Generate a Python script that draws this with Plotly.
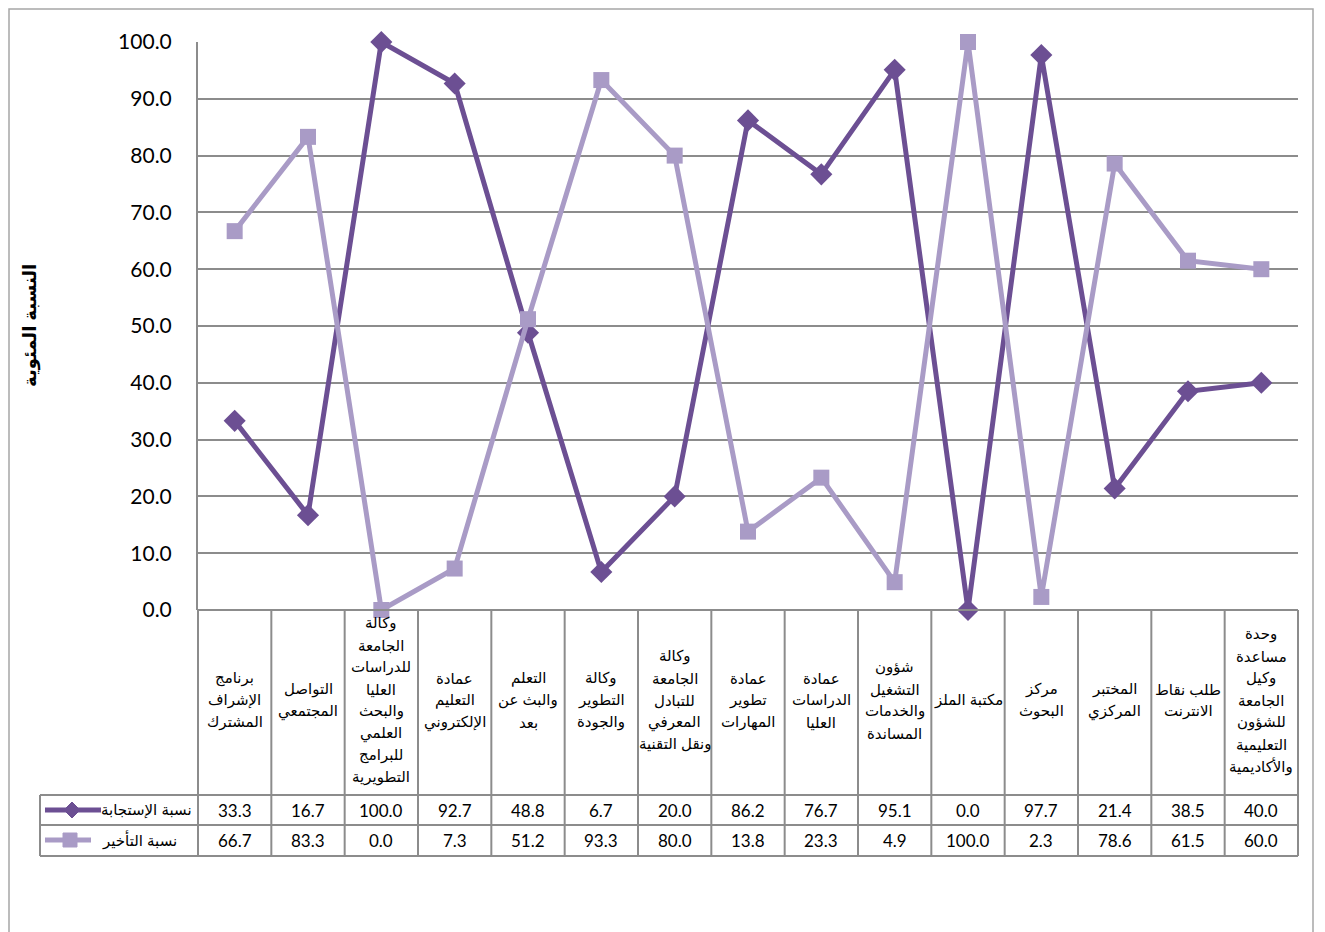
import plotly.graph_objects as go

categories = [
    "برنامج<br>الإشراف<br>المشترك",
    "التواصل<br>المجتمعي",
    "وكالة<br>الجامعة<br>للدراسات<br>العليا<br>والبحث<br>العلمي<br>للبرامج<br>التطويرية",
    "عمادة<br>التعليم<br>الإلكتروني",
    "التعلم<br>والبث عن<br>بعد",
    "وكالة<br>التطوير<br>والجودة",
    "وكالة<br>الجامعة<br>للتبادل<br>المعرفي<br>ونقل التقنية",
    "عمادة<br>تطوير<br>المهارات",
    "عمادة<br>الدراسات<br>العليا",
    "شؤون<br>التشغيل<br>والخدمات<br>المساندة",
    "مكتبة الملز",
    "مركز<br>البحوث",
    "المختبر<br>المركزي",
    "طلب نقاط<br>الانترنت",
    "وحدة<br>مساعدة<br>وكيل<br>الجامعة<br>للشؤون<br>التعليمية<br>والأكاديمية",
]
series_names = ["نسبة الإستجابة", "نسبة التأخير"]
response = [33.3, 16.7, 100.0, 92.7, 48.8, 6.7, 20.0, 86.2, 76.7, 95.1, 0.0, 97.7, 21.4, 38.5, 40.0]
delay = [66.7, 83.3, 0.0, 7.3, 51.2, 93.3, 80.0, 13.8, 23.3, 4.9, 100.0, 2.3, 78.6, 61.5, 60.0]
y_title = "النسبة المئوية"

DARK = "#6C4F93"
LIGHT = "#A99BC6"
GRID = "#8C8C8C"
ARFONT = "Liberation Sans, DejaVu Sans, Noto Sans, sans-serif"
NUMFONT = "Lato, Liberation Sans, sans-serif"

W, H = 1325, 932
OFF = 8  # page offset of the figure in the screenshot
# screen-pixel plot area: x 198..1298, y 42..610
L = 198 - OFF
T = 42 - OFF
R = W - (1298 - OFF)
B = H - (610 - OFF)
PW, PH = W - L - R, H - T - B

def pxx(p):
    return (p - OFF - L) / PW

def pxy(p):
    return (T + PH - (p - OFF)) / PH

n = len(categories)
xs = list(range(n))

fig = go.Figure()
fig.add_trace(go.Scatter(x=xs, y=response, mode="lines+markers", name=series_names[0],
                         line=dict(color=DARK, width=5),
                         marker=dict(symbol="diamond", size=17, color=DARK),
                         cliponaxis=False, showlegend=False))
fig.add_trace(go.Scatter(x=xs, y=delay, mode="lines+markers", name=series_names[1],
                         line=dict(color=LIGHT, width=5),
                         marker=dict(symbol="square", size=16, color=LIGHT),
                         cliponaxis=False, showlegend=False))

shapes = []
annotations = []

# outer chart border
shapes.append(dict(type="rect", xref="paper", yref="paper",
                   x0=pxx(9), x1=pxx(1313), y0=pxy(945), y1=pxy(9),
                   line=dict(color="#A6A6A6", width=1.5), layer="below"))

row_tops = [610, 795, 825, 856]
tline = dict(color=GRID, width=2)
shapes.append(dict(type="line", xref="paper", yref="paper", x0=0, x1=1, y0=pxy(610), y1=pxy(610), line=tline))
for yy in row_tops[1:]:
    shapes.append(dict(type="line", xref="paper", yref="paper", x0=pxx(40), x1=1,
                       y0=pxy(yy), y1=pxy(yy), line=tline))
for i in range(n + 1):
    shapes.append(dict(type="line", xref="paper", yref="paper", x0=i / n, x1=i / n,
                       y0=pxy(610), y1=pxy(856), line=tline))
shapes.append(dict(type="line", xref="paper", yref="paper", x0=pxx(40), x1=pxx(40),
                   y0=pxy(795), y1=pxy(856), line=tline))

# category labels, one annotation per line for Excel-like line spacing
LINE_H = 22
for i, c in enumerate(categories):
    lines = c.split("<br>")
    k = len(lines)
    for j, ln in enumerate(lines):
        yy = 700 + (j - (k - 1) / 2) * LINE_H
        annotations.append(dict(x=(i + 0.5) / n, y=pxy(yy), xref="paper", yref="paper",
                                text=ln, showarrow=False, xanchor="center", yanchor="middle",
                                font=dict(family=ARFONT, size=15, color="#000")))
# values
for vals, yy in [(response, 810), (delay, 840)]:
    for i, v in enumerate(vals):
        annotations.append(dict(x=(i + 0.5) / n, y=pxy(yy), xref="paper", yref="paper",
                                text=f"{v:.1f}", showarrow=False, xanchor="center", yanchor="middle",
                                font=dict(family=NUMFONT, size=17, color="#000")))

# legend keys in table
shapes.append(dict(type="line", xref="paper", yref="paper", x0=pxx(45), x1=pxx(101),
                   y0=pxy(810), y1=pxy(810), line=dict(color=DARK, width=5)))
shapes.append(dict(type="path", xref="paper", yref="paper",
                   path=f"M {pxx(64)},{pxy(810)} L {pxx(72)},{pxy(802)} L {pxx(80)},{pxy(810)} L {pxx(72)},{pxy(818)} Z",
                   fillcolor=DARK, line=dict(color=DARK, width=1)))
shapes.append(dict(type="line", xref="paper", yref="paper", x0=pxx(45), x1=pxx(91),
                   y0=pxy(840), y1=pxy(840), line=dict(color=LIGHT, width=5)))
shapes.append(dict(type="rect", xref="paper", yref="paper",
                   x0=pxx(63), x1=pxx(77), y0=pxy(847), y1=pxy(833),
                   fillcolor=LIGHT, line=dict(color=LIGHT, width=1)))
annotations.append(dict(x=pxx(194), y=pxy(810), xref="paper", yref="paper", text=series_names[0],
                        showarrow=False, xanchor="right", yanchor="middle",
                        font=dict(family=ARFONT, size=15, color="#000")))
annotations.append(dict(x=pxx(179), y=pxy(840), xref="paper", yref="paper", text=series_names[1],
                        showarrow=False, xanchor="right", yanchor="middle",
                        font=dict(family=ARFONT, size=15, color="#000")))

# y-axis title
annotations.append(dict(x=pxx(30), y=pxy(326), xref="paper", yref="paper", text=f"<b>{y_title}</b>",
                        showarrow=False, textangle=-90, xanchor="center", yanchor="middle",
                        font=dict(family=ARFONT, size=18, color="#000")))

fig.update_layout(
    width=W, height=H,
    margin=dict(l=L, r=R, t=T, b=B),
    paper_bgcolor="white", plot_bgcolor="white",
    shapes=shapes, annotations=annotations,
    showlegend=False,
    xaxis=dict(range=[-0.5, n - 0.5], showticklabels=False, showgrid=False,
               zeroline=False, showline=False, ticks=""),
    yaxis=dict(range=[0, 100], dtick=10, tickformat=".1f", showgrid=True,
               gridcolor=GRID, gridwidth=2, zeroline=False, showline=True,
               linecolor=GRID, linewidth=2, ticks="", ticklabelstandoff=20,
               tickfont=dict(family=NUMFONT, size=21, color="#000")),
)

fig.write_html("out.html")
